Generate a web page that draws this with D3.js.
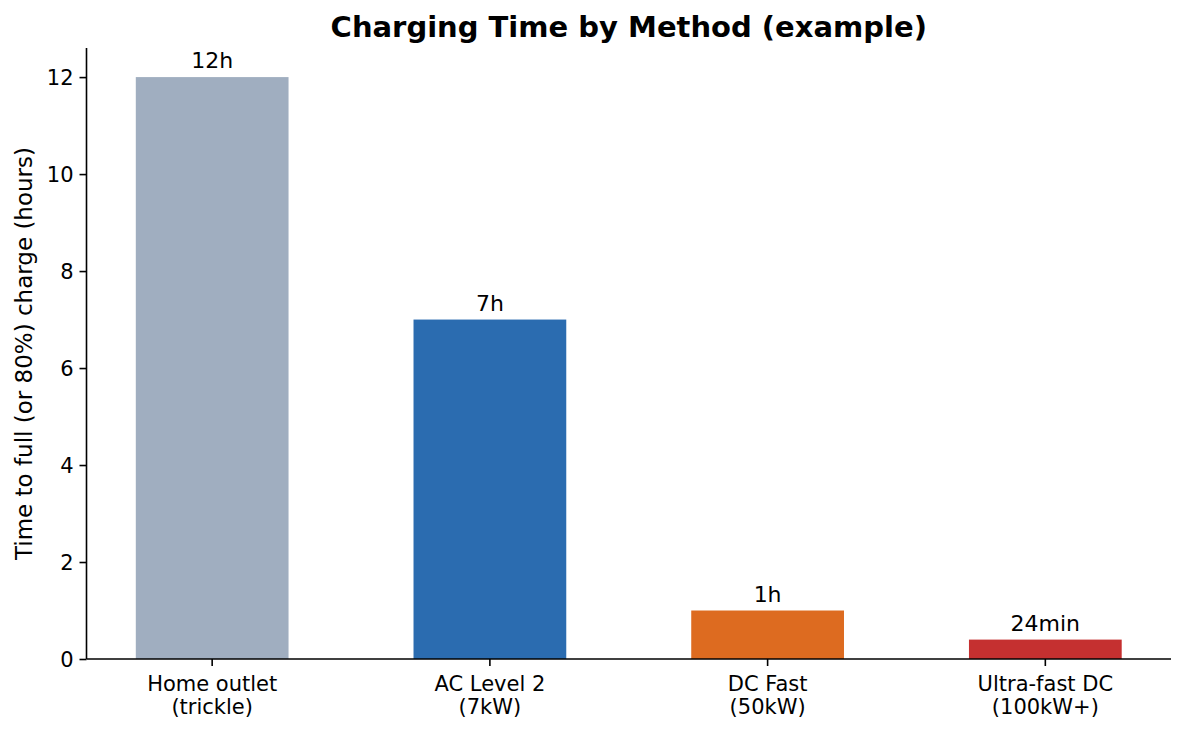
<!DOCTYPE html>
<html>
<head>
<meta charset="utf-8">
<script src="https://cdn.jsdelivr.net/npm/d3@7"></script>
<style>
  body { margin: 0; background: #fff; }
  text { font-family: "DejaVu Sans", sans-serif; fill: #000; }
</style>
</head>
<body>
<script>
// chart data
var methods = [["Home outlet", "(trickle)"], ["AC Level 2", "(7kW)"], ["DC Fast", "(50kW)"], ["Ultra-fast DC", "(100kW+)"]]
var hours = [12, 7, 1, 0.4]
var barLabels = ["12h", "7h", "1h", "24min"]
var barColors = ["#a0aec0", "#2b6cb0", "#dd6b20", "#c53030"]
var yTicks = [0, 2, 4, 6, 8, 10, 12]

var W = 1185, H = 732
var margin = {top: 48, right: 14, bottom: 73, left: 86.5}

var svg = d3.select("body").append("svg")
  .attr("width", W)
  .attr("height", H)

var x = d3.scaleBand()
  .domain(d3.range(methods.length))
  .range([margin.left, W - margin.right])
  .paddingInner(0.45)
  .paddingOuter(0.1775)

var y = d3.scaleLinear()
  .domain([0, 12.6])
  .range([H - margin.bottom, margin.top])

// bars
svg.append("g")
  .selectAll("rect")
  .data(hours)
  .join("rect")
    .attr("x", (d, i) => x(i))
    .attr("width", x.bandwidth())
    .attr("y", d => y(d))
    .attr("height", d => y(0) - y(d))
    .attr("fill", (d, i) => barColors[i])

// value labels
svg.append("g")
  .selectAll("text")
  .data(hours)
  .join("text")
    .attr("x", (d, i) => x(i) + x.bandwidth() / 2)
    .attr("y", d => y(d) - 9)
    .attr("text-anchor", "middle")
    .style("font-size", "22px")
    .text((d, i) => barLabels[i])

// y axis
var yAxis = svg.append("g")
  .attr("transform", `translate(${margin.left},0)`)
  .call(d3.axisLeft(y).tickValues(yTicks).tickSize(7).tickPadding(6).tickFormat(d3.format("d")))
yAxis.select(".domain").attr("stroke", "#000").attr("stroke-width", 1.6)
  .attr("d", `M0,${y(0)}V${margin.top}`)
yAxis.selectAll(".tick line").attr("stroke", "#000").attr("stroke-width", 1.6)
yAxis.selectAll(".tick text").style("font-size", "21px").attr("dy", "0.35em")

// x axis
var xAxis = svg.append("g")
  .attr("transform", `translate(0,${y(0)})`)
  .call(d3.axisBottom(x).tickSize(7).tickPadding(7).tickFormat(""))
xAxis.select(".domain").attr("stroke", "#000").attr("stroke-width", 1.6)
  .attr("d", `M${margin.left},0H${W - margin.right}`)
xAxis.selectAll(".tick line").attr("stroke", "#000").attr("stroke-width", 1.6)
xAxis.selectAll(".tick text").remove()
xAxis.selectAll(".tick").append("text")
    .attr("text-anchor", "middle")
    .style("font-size", "21px")
  .selectAll("tspan")
  .data(i => methods[i])
  .join("tspan")
    .attr("x", 0)
    .attr("y", (d, j) => 32 + j * 23)
    .text(d => d)

// y label
svg.append("text")
  .attr("transform", `translate(32,${(y(0) + margin.top) / 2}) rotate(-90)`)
  .attr("text-anchor", "middle")
  .style("font-size", "23px")
  .text("Time to full (or 80%) charge (hours)")

// title
svg.append("text")
  .attr("x", (margin.left + W - margin.right) / 2)
  .attr("y", 37)
  .attr("text-anchor", "middle")
  .style("font-size", "29px")
  .style("font-weight", "bold")
  .text("Charging Time by Method (example)")
</script>
</body>
</html>
